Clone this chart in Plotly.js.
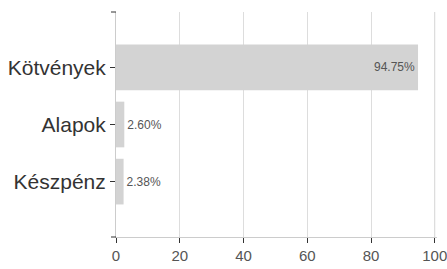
<!DOCTYPE html>
<html>
<head>
<meta charset="utf-8">
<script src="https://cdn.plot.ly/plotly-3.0.1.min.js"></script>
<style>html,body{margin:0;padding:0;background:#fff;}#chart{width:447px;height:269px;}</style>
</head>
<body>
<div id="chart"></div>
<script>
const categories = ["Kötvények", "Alapok", "Készpénz"];
const values = [94.75, 2.60, 2.38];
const labels = ["94.75%", "2.60%", "2.38%"];
const xTicks = [0, 20, 40, 60, 80, 100];

const plotW = 447 - 116 - 10;
const xMax = xTicks[xTicks.length - 1];
const trace = {
  type: 'bar',
  orientation: 'h',
  y: categories,
  x: values,
  text: labels,
  textposition: ['inside', 'outside', 'outside'],
  insidetextanchor: 'end',
  textfont: {family: 'Liberation Sans, Arial, sans-serif', size: 12, color: '#555'},
  insidetextfont: {color: '#555'},
  outsidetextfont: {color: '#555'},
  marker: {color: '#d3d3d3'},
  width: 0.8,
  cliponaxis: false,
  hoverinfo: 'none'
};

const layout = {
  width: 447, height: 269,
  margin: {l: 116, r: 10, t: 12, b: 32},
  paper_bgcolor: '#fff', plot_bgcolor: '#fff',
  showlegend: false,
  xaxis: {
    range: [0, 100.7], tickvals: xTicks, ticktext: xTicks.map(String),
    showgrid: true, gridcolor: '#ddd', gridwidth: 1,
    zeroline: false, showline: true, linecolor: '#ccc', linewidth: 1,
    ticks: 'outside', ticklen: 5, tickcolor: '#333', tickwidth: 1,
    ticklabeloverflow: 'allow',
    tickfont: {family: 'Liberation Sans, Arial, sans-serif', size: 15, color: '#555'},
    fixedrange: true
  },
  yaxis: {
    type: 'category', autorange: false, range: [2.97, -0.97],
    showgrid: false, zeroline: false, showline: true, linecolor: '#ccc', linewidth: 1,
    ticks: 'outside', ticklen: 5, tickcolor: '#333', tickwidth: 1,
    tickfont: {family: 'Liberation Sans, Arial, sans-serif', size: 21, color: '#333'},
    fixedrange: true
  },
  shapes: [
    {type: 'line', xref: 'paper', yref: 'paper', x0: -5/plotW, x1: 0, y0: 1, y1: 1, line: {color: '#333', width: 1}},
    {type: 'line', xref: 'paper', yref: 'paper', x0: -5/plotW, x1: 0, y0: 0, y1: 0, line: {color: '#333', width: 1}},
    {type: 'line', xref: 'x', yref: 'paper', x0: xMax, x1: xMax, y0: 0, y1: 1, layer: 'above', line: {color: '#ddd', width: 1}}
  ]
};

Plotly.newPlot('chart', [trace], layout, {displayModeBar: false, staticPlot: true});
</script>
</body>
</html>
